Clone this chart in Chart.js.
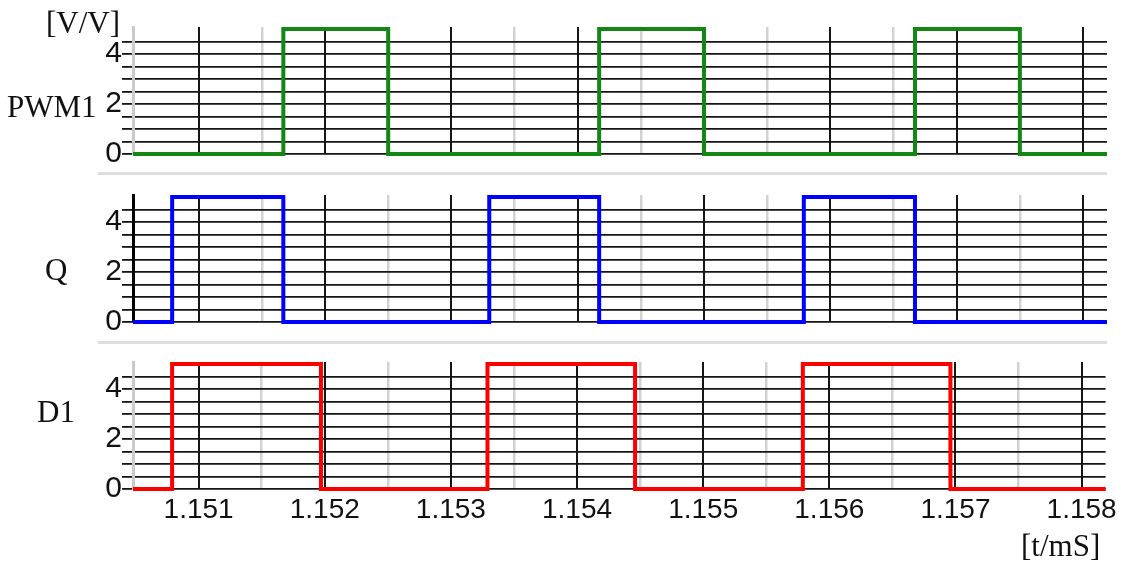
<!DOCTYPE html>
<html>
<head>
<meta charset="utf-8">
<title>PWM1 / Q / D1 timing</title>
<script src="https://cdn.jsdelivr.net/npm/chart.js@4"></script>
<style>
  html, body { margin: 0; padding: 0; background: #fff; }
  #wrap { position: relative; width: 1121px; height: 563px; overflow: hidden; background: #fff; }
  #wrap canvas { position: absolute; left: 0; }
  .lbl { position: absolute; font-family: "Liberation Serif", "Times New Roman", serif; font-size: 31px; line-height: 31px; color: #111; white-space: nowrap; }
  .sep { position: absolute; left: 98px; width: 1009px; height: 3px; background: #dedede; }
</style>
</head>
<body>
<div id="wrap">
  <div class="sep" style="top:172px"></div>
  <div class="sep" style="top:341px"></div>
  <canvas id="c1" width="1121" height="167" style="top:7px"></canvas>
  <canvas id="c2" width="1121" height="167" style="top:175px"></canvas>
  <canvas id="c3" width="1121" height="221" style="top:342px"></canvas>
  <div class="lbl" style="left:46px; top:7px">[V/V]</div>
  <div class="lbl" style="left:7px; top:91px">PWM1</div>
  <div class="lbl" style="left:45px; top:254px">Q</div>
  <div class="lbl" style="left:37px; top:396px">D1</div>
  <div class="lbl" style="left:1021px; top:530px">[t/mS]</div>
</div>
<script>
// Time window (ms)
const xMin = 1.15048;
const xMax = 1.15819;

// Labelled time ticks (ms)
const xTickValues = [1.151, 1.152, 1.153, 1.154, 1.155, 1.156, 1.157, 1.158];
const xTickLabels = ["1.151", "1.152", "1.153", "1.154", "1.155", "1.156", "1.157", "1.158"];

// Voltage grid (V) and its labels
const yTickValues = [0, 0.5, 1, 1.5, 2, 2.5, 3, 3.5, 4, 4.5];
const yTickLabels = ["0", "", "", "", "2", "", "", "", "4", ""];

// PWM1: switching instants (ms) and the level held from each instant on (V)
const pwm1Time  = [1.15048, 1.15167, 1.15250, 1.15417, 1.15500, 1.15667, 1.15750, 1.15819];
const pwm1Level = [0, 5, 0, 5, 0, 5, 0, 0];

// Q
const qTime  = [1.15048, 1.15079, 1.15167, 1.15330, 1.15417, 1.15579, 1.15667, 1.15819];
const qLevel = [0, 5, 0, 5, 0, 5, 0, 0];

// D1
const d1Time  = [1.15048, 1.15079, 1.15197, 1.15329, 1.15446, 1.15579, 1.15696, 1.15819];
const d1Level = [0, 5, 0, 5, 0, 5, 0, 0];

// Vertical grid: labelled ticks plus the half-way lines between them
const xGrid = [];
xTickValues.forEach((v, i) => {
  xGrid.push({ value: v, major: true, label: xTickLabels[i] });
  if (i < xTickValues.length - 1) {
    xGrid.push({ value: (v + xTickValues[i + 1]) / 2, major: false, label: "" });
  }
});

const xFont = { family: "'Liberation Sans', Arial, sans-serif", size: 28 };
const yFont = { family: "'Liberation Sans', Arial, sans-serif", size: 30 };

function toPoints(times, levels) {
  return times.map((t, i) => ({ x: t, y: levels[i] }));
}

function makePanel(id, times, levels, color, leftBorder, isBottom) {
  return new Chart(document.getElementById(id), {
    type: 'line',
    data: {
      datasets: [{
        data: toPoints(times, levels),
        stepped: 'before',
        borderColor: color,
        borderWidth: 4,
        borderJoinStyle: 'miter',
        pointRadius: 0,
        fill: false,
        clip: false
      }]
    },
    options: {
      responsive: false,
      animation: false,
      devicePixelRatio: 1,
      layout: { padding: { left: 0, right: 14, top: 20, bottom: isBottom ? 0 : 20 } },
      plugins: { legend: { display: false }, tooltip: { enabled: false } },
      scales: {
        x: {
          type: 'linear',
          min: xMin,
          max: xMax,
          afterBuildTicks: s => { s.ticks = xGrid.map(g => ({ value: g.value })); },
          afterFit: s => { s.height = isBottom ? 74 : 0; },
          ticks: {
            display: isBottom,
            autoSkip: false,
            maxRotation: 0,
            padding: 4,
            color: '#111',
            font: xFont,
            callback: (v, i) => xGrid[i] ? xGrid[i].label : ''
          },
          grid: {
            drawTicks: false,
            color: ctx => (xGrid[ctx.index] && xGrid[ctx.index].major) ? '#151515' : '#d2d2d2',
            lineWidth: ctx => (xGrid[ctx.index] && xGrid[ctx.index].major) ? 2 : 2.5
          },
          border: { display: false }
        },
        y: {
          type: 'linear',
          min: 0,
          max: 5.08,
          afterBuildTicks: s => { s.ticks = yTickValues.map(v => ({ value: v })); },
          afterFit: s => { s.width = 133; },
          ticks: {
            autoSkip: false,
            padding: 0,
            color: '#111',
            font: yFont,
            callback: (v, i) => yTickLabels[i]
          },
          grid: {
            color: '#151515',
            lineWidth: 1.8,
            drawTicks: true,
            tickLength: 11,
            tickColor: '#151515'
          },
          border: { display: true, color: leftBorder, width: 3 }
        }
      }
    }
  });
}

makePanel('c1', pwm1Time, pwm1Level, '#138613', '#cacaca', false);
makePanel('c2', qTime, qLevel, '#0000ff', '#000000', false);
makePanel('c3', d1Time, d1Level, '#ff0000', '#cacaca', true);
</script>
</body>
</html>
